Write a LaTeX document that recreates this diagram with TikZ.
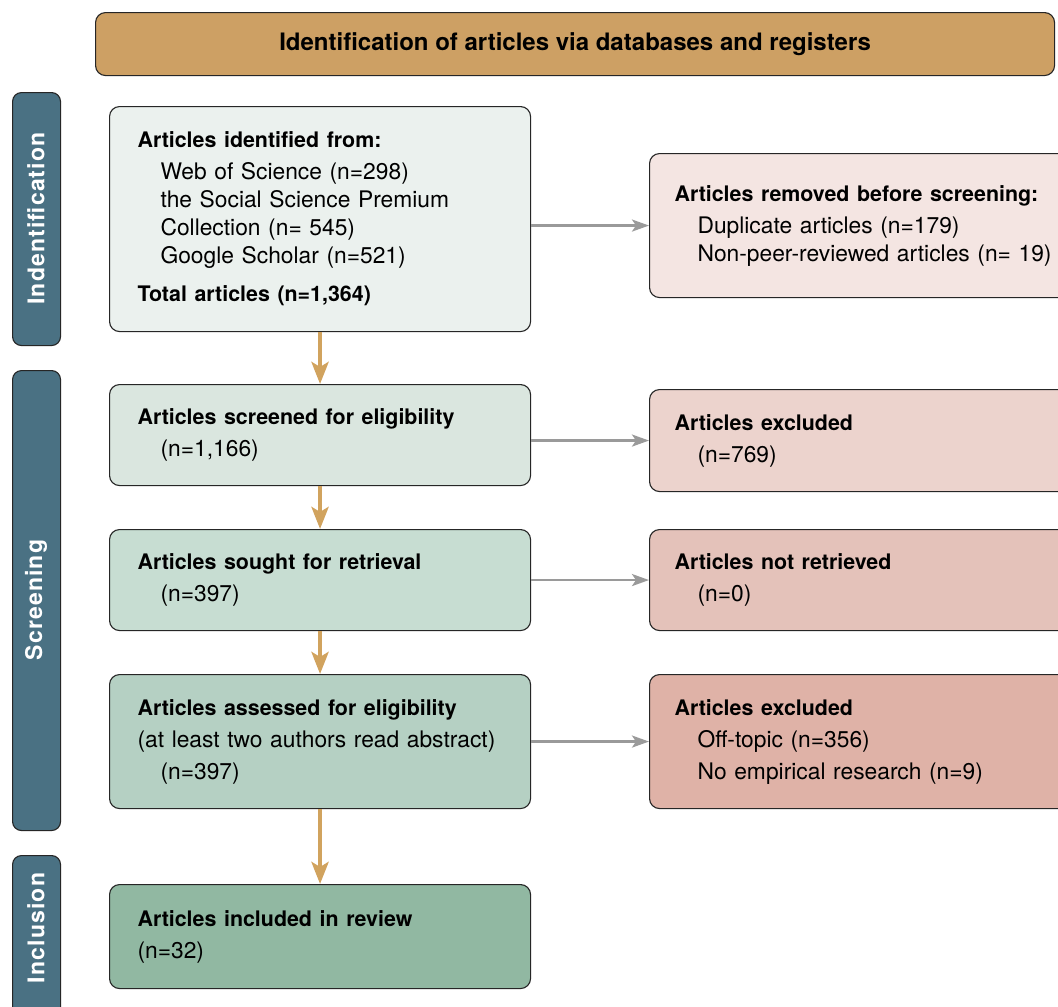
\documentclass[tikz,border=0pt]{standalone}
\usepackage{fontspec}
\setmainfont{TeX Gyre Heros}
\newfontfamily\barfont[LetterSpace=5]{TeX Gyre Heros}
\usetikzlibrary{arrows.meta}
\definecolor{bannerc}{HTML}{CDA064}
\definecolor{barc}{HTML}{4A7183}
\definecolor{cA}{HTML}{EBF1EE}
\definecolor{cB}{HTML}{DAE6DF}
\definecolor{cC}{HTML}{C7DDD2}
\definecolor{cD}{HTML}{B5D0C3}
\definecolor{cE}{HTML}{91B8A2}
\definecolor{rA}{HTML}{F4E5E2}
\definecolor{rB}{HTML}{ECD3CD}
\definecolor{rC}{HTML}{E4C2BA}
\definecolor{rD}{HTML}{DFB2A7}
\definecolor{goldc}{HTML}{D1A35E}
\definecolor{grayc}{HTML}{9A9A9A}
\newcommand{\hd}[1]{{\fontsize{21.4}{28}\bfseries #1}}
\newcommand{\ind}{\hspace*{23pt}}
\begin{document}
\begin{tikzpicture}[x=1pt,y=-1pt,
  box/.style={draw=black!85, line width=1.1pt, rounded corners=10pt, anchor=north west,
    align=left, inner ysep=0pt, font=\fontsize{22.8}{28}\selectfont},
  lbox/.style={box, inner xsep=28pt, text width=365pt, minimum height=#1},
  rbox/.style={box, inner xsep=25pt, text width=420pt, minimum height=#1},
  sidebar/.style={draw=black!85, line width=1.1pt, rounded corners=9pt, fill=barc,
    anchor=north west, minimum width=48pt, minimum height=#1, inner sep=0pt},
  sidelabel/.style={rotate=90, text=white, font=\barfont\fontsize{23}{28}\bfseries},
  goldarr/.style={draw=goldc, line width=4.8pt, -{Stealth[width=17pt,length=22pt,inset=5pt]}},
  grayarr/.style={draw=grayc, line width=2.5pt, -{Stealth[width=12pt,length=17pt,inset=4pt]}}
]
\useasboundingbox (0,0) rectangle (1058,1007);
\clip (0,0) rectangle (1058,1007);
\fill[white] (0,0) rectangle (1058,1007);

% banner
\node[draw=black!85, line width=1.1pt, rounded corners=10pt, fill=bannerc, anchor=north west,
  minimum width=959pt, minimum height=63pt, inner sep=0pt,
  font=\fontsize{24}{28}\bfseries] (banner) at (95,12)
  {Identification of articles via databases and registers};

% side bars
\node[sidebar=253pt] (barI) at (12,92) {};
\node[sidebar=460pt] (barS) at (12,370) {};
\node[sidebar=175pt] (barN) at (12,855) {};
\node[sidelabel] (labI) at (36,218.5) {Indentification};
\node[sidelabel] (labS) at (36,600) {Screening};
\node[sidelabel] (labN) at (36,928) {Inclusion};

% left boxes
\node[lbox=225pt, fill=cA] (ident) at (109,106) {%
  \hd{Articles identified from:}\\[4pt]
  \ind Web of Science (n=298)\\
  \ind the Social Science Premium\\
  \ind Collection (n=\ 545)\\
  \ind Google Scholar (n=521)\\[10pt]
  \hd{Total articles (n=1,364)}};
\node[lbox=101pt, fill=cB] (screen) at (109,384) {%
  \hd{Articles screened for eligibility}\\[4pt]
  \ind (n=1,166)};
\node[lbox=101pt, fill=cC] (sought) at (109,529) {%
  \hd{Articles sought for retrieval}\\[4pt]
  \ind (n=397)};
\node[lbox=134pt, fill=cD] (assess) at (109,674) {%
  \hd{Articles assessed for eligibility}\\[4pt]
  (at least two authors read abstract)\\[4pt]
  \ind (n=397)};
\node[lbox=104pt, fill=cE] (incl) at (109,884) {%
  \hd{Articles included in review}\\[4pt]
  (n=32)};

% right boxes
\node[rbox=144pt, fill=rA] (removed) at (649,153) {%
  \hd{Articles removed before screening:}\\[4pt]
  \ind Duplicate articles (n=179)\\
  \ind Non-peer-reviewed articles (n=\ 19)};
\node[rbox=102pt, fill=rB] (excl) at (649,389) {%
  \hd{Articles excluded}\\[4pt]
  \ind (n=769)};
\node[rbox=101pt, fill=rC] (notret) at (649,529) {%
  \hd{Articles not retrieved}\\[4pt]
  \ind (n=0)};
\node[rbox=134pt, fill=rD] (excl2) at (649,674) {%
  \hd{Articles excluded}\\[4pt]
  \ind Off-topic (n=356)\\[4pt]
  \ind No empirical research (n=9)};

% arrows
\draw[goldarr] (ident.south) -- (screen.north);
\draw[goldarr] (screen.south) -- (sought.north);
\draw[goldarr] (sought.south) -- (assess.north);
\draw[goldarr] (assess.south) -- (incl.north);
\draw[grayarr] (ident.east |- removed.west) -- (removed.west);
\draw[grayarr] (screen.east |- excl.west) -- (excl.west);
\draw[grayarr] (sought.east |- notret.west) -- (notret.west);
\draw[grayarr] (assess.east |- excl2.west) -- (excl2.west);
\end{tikzpicture}
\end{document}
